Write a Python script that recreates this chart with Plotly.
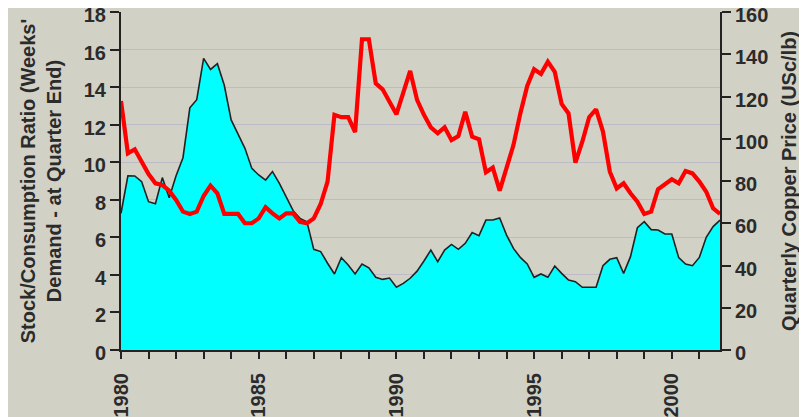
import plotly.graph_objects as go

years = list(range(1980, 2002))
quarters = [0, 1, 2, 3]

stock_ratio = [
    7.28, 9.28, 9.27, 8.96,
    7.90, 7.79, 9.18, 8.11,
    9.28, 10.24, 12.90, 13.33,
    15.53, 14.94, 15.25, 14.10,
    12.25, 11.48, 10.74, 9.67,
    9.32, 9.05, 9.50, 8.87,
    8.16, 7.42, 7.01, 6.83,
    5.36, 5.24, 4.62, 4.05,
    4.92, 4.53, 4.05, 4.58,
    4.38, 3.87, 3.76, 3.83,
    3.34, 3.55, 3.82, 4.20,
    4.74, 5.32, 4.70, 5.32,
    5.62, 5.36, 5.68, 6.26,
    6.09, 6.92, 6.92, 7.03,
    6.12, 5.41, 4.93, 4.58,
    3.87, 4.05, 3.87, 4.47,
    4.08, 3.73, 3.64, 3.34,
    3.34, 3.34, 4.49, 4.83,
    4.92, 4.08, 4.97, 6.51,
    6.83, 6.41, 6.39, 6.18,
    6.18, 4.92, 4.58, 4.49,
    4.93, 6.00, 6.57, 6.92,
]

copper_price = [
    117.9, 93.1, 95.0, 89.5,
    83.3, 78.9, 78.1, 75.4,
    71.0, 65.5, 64.4, 65.5,
    72.9, 77.8, 74.2, 64.4,
    64.4, 64.4, 60.0, 60.0,
    62.3, 67.6, 64.7, 62.3,
    64.7, 64.7, 60.7, 60.0,
    62.3, 69.1, 79.7, 111.3,
    110.2, 110.2, 103.1, 147.1,
    147.1, 126.2, 123.4, 117.6,
    111.6, 121.8, 132.1, 118.4,
    111.3, 105.4, 102.6, 105.4,
    99.4, 101.3, 112.8, 101.0,
    99.7, 84.1, 86.3, 75.4,
    86.0, 97.0, 112.0, 125.0,
    132.9, 130.7, 136.5, 131.7,
    116.5, 112.0, 88.7, 98.6,
    110.2, 113.9, 103.4, 84.4,
    76.5, 78.9, 74.2, 70.2,
    64.4, 65.5, 76.1, 78.4,
    80.8, 78.9, 84.7, 83.6,
    79.7, 74.9, 67.1, 64.4,
]

x_quarters = [y + q / 4 for y in years for q in quarters]
year_ticks = years
year_labels = [str(y) if y % 5 == 0 else "" for y in years]

BG = "#D2D1C6"
GRID = "#BDBBC8"
AX = "#222222"
TXT = "#2b2b2b"
FONT = "Liberation Sans, Arial, sans-serif"

fig = go.Figure()
fig.add_trace(go.Scatter(
    x=x_quarters, y=stock_ratio, mode="lines", fill="tozeroy",
    fillcolor="#00FFFF", line=dict(color="#222222", width=1.6),
    hoverinfo="skip", showlegend=False,
))
fig.add_trace(go.Scatter(
    x=x_quarters, y=copper_price, mode="lines", yaxis="y2",
    line=dict(color="#FF0000", width=4.2),
    hoverinfo="skip", showlegend=False,
))

tickfont = dict(family=FONT, size=20, color=TXT, weight="bold")
titlefont = dict(family=FONT, size=20, color=TXT, weight="bold")

# page body has an 8px default margin, so the figure is sized to fit inside it
fig.update_layout(
    width=799, height=409,
    margin=dict(l=113, r=87, t=4, b=67),
    paper_bgcolor=BG, plot_bgcolor=BG,
    xaxis=dict(
        range=[1980, 2001.75], tickmode="array",
        tickvals=year_ticks, ticktext=year_labels, tickangle=-90,
        ticks="outside", ticklen=7, tickwidth=2, tickcolor=AX,
        showline=True, linewidth=2, linecolor=AX, showgrid=False,
        zeroline=False, tickfont=tickfont, automargin=False,
        ticklabelstandoff=6, ticklabeloverflow="allow",
    ),
    yaxis=dict(
        range=[0, 18], dtick=2, ticks="outside", ticklen=9, tickwidth=2,
        tickcolor=AX, showline=True, linewidth=2, linecolor=AX,
        showgrid=True, gridcolor=GRID, gridwidth=1, zeroline=False,
        tickfont=tickfont, automargin=False,
        ticklabeloverflow="allow", ticklabelshift=3,
        title=dict(text="Stock/Consumption Ratio (Weeks'<br>Demand - at Quarter End)",
                   font=titlefont, standoff=17),
    ),
    yaxis2=dict(
        range=[0, 160], dtick=20, overlaying="y", side="right",
        ticks="outside", ticklen=9, tickwidth=2, tickcolor=AX,
        showline=True, linewidth=2, linecolor=AX, showgrid=False,
        zeroline=False, tickfont=tickfont, automargin=False,
        ticklabeloverflow="allow", ticklabelshift=3,
        title=dict(text="Quarterly Copper Price (USc/lb)", font=titlefont, standoff=15),
    ),
)

fig.write_html("out.html")
